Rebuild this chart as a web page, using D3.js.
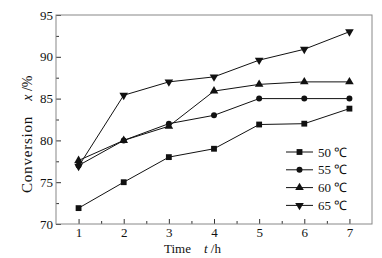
<!DOCTYPE html>
<html>
<head>
<meta charset="utf-8">
<script src="https://cdn.jsdelivr.net/npm/d3@7"></script>
<style>
  body { margin: 0; background: #fff; }
  svg { display: block; }
  svg text { font-family: "Liberation Serif", "Times New Roman", serif; fill: #111; }
</style>
</head>
<body>
<div id="chart"></div>
<script>
const hours = [1, 2, 3, 4, 5, 6, 7];
const conv50 = [71.9, 75, 78, 79, 81.9, 82, 83.8];
const conv55 = [77, 80, 82, 83, 85, 85, 85];
const conv60 = [77.6, 80, 81.7, 85.9, 86.7, 87, 87];
const conv65 = [76.9, 85.4, 87, 87.6, 89.6, 90.9, 93];
const seriesNames = ['50 ℃', '55 ℃', '60 ℃', '65 ℃'];
const xTicks = [1, 2, 3, 4, 5, 6, 7];
const yTicks = [70, 75, 80, 85, 90, 95];

const width = 382, height = 258;
const margin = {top: 15, right: 10, bottom: 34, left: 56};
const innerWidth = width - margin.left - margin.right;
const innerHeight = height - margin.top - margin.bottom;

const svg = d3.select('#chart').append('svg')
  .attr('width', width)
  .attr('height', height);

const g = svg.append('g')
  .attr('transform', `translate(${margin.left},${margin.top})`);

const xScale = d3.scaleLinear().domain([0.5, 7.5]).range([0, innerWidth]);
const yScale = d3.scaleLinear().domain([70, 95]).range([innerHeight, 0]);

// x axis, ticks pointing inward
const xAxisG = g.append('g')
  .attr('transform', `translate(0,${innerHeight})`)
  .call(d3.axisBottom(xScale).tickValues(xTicks).tickSize(-5).tickPadding(4).tickFormat(d3.format('d')));
xAxisG.append('g')
  .call(d3.axisBottom(xScale).tickValues(d3.range(1.5, 7, 1)).tickSize(-3).tickFormat(''));

const yAxisG = g.append('g')
  .call(d3.axisLeft(yScale).tickValues(yTicks).tickSize(-5).tickPadding(3).tickFormat(d3.format('d')));
yAxisG.append('g')
  .call(d3.axisLeft(yScale).tickValues(d3.range(72.5, 95, 5)).tickSize(-3).tickFormat(''));

[xAxisG, yAxisG].forEach(a => {
  a.attr('font-family', null).attr('font-size', null);
  a.selectAll('g').attr('font-family', null).attr('font-size', null);
  a.selectAll('.domain').attr('stroke', 'none');
  a.selectAll('line').attr('stroke', '#333');
  a.selectAll('text')
    .attr('font-size', 13)
    .attr('fill', '#111');
});

// frame
g.append('rect')
  .attr('width', innerWidth)
  .attr('height', innerHeight)
  .attr('fill', 'none')
  .attr('stroke', '#888')
  .attr('stroke-width', 1);

// axis labels
const xLab = svg.append('text')
  .attr('x', 164)
  .attr('y', 253)
  .attr('font-size', 13);
xLab.append('tspan').text('Time');
xLab.append('tspan').attr('dx', 13).attr('font-style', 'italic').text('t');
xLab.append('tspan').text(' /h');

const yLab = svg.append('text')
  .attr('transform', 'translate(32,193) rotate(-90)')
  .attr('font-size', 15);
yLab.append('tspan').attr('letter-spacing', 0.8).text('Conversion');
yLab.append('tspan').attr('dx', 15).attr('font-size', 14).attr('font-style', 'italic').text('x');
yLab.append('tspan').attr('font-size', 14).text(' /%');

const allSeries = [conv50, conv55, conv60, conv65];
const symbols = [d3.symbolSquare, d3.symbolCircle, d3.symbolTriangle, d3.symbolTriangle];
const symSizes = [34, 28, 32, 32];

const line = d3.line()
  .x((d, i) => xScale(hours[i]))
  .y(d => yScale(d));

allSeries.forEach((vals, s) => {
  g.append('path')
    .attr('d', line(vals))
    .attr('fill', 'none')
    .attr('stroke', '#111')
    .attr('stroke-width', 1);
  g.selectAll(`.pt${s}`).data(vals).enter().append('path')
    .attr('class', `pt${s}`)
    .attr('d', d3.symbol().type(symbols[s]).size(symSizes[s]))
    .attr('transform', (d, i) => `translate(${xScale(hours[i])},${yScale(d)})` + (s === 3 ? ' rotate(180)' : ''))
    .attr('fill', '#111');
});

// legend
const legend = g.append('g')
  .attr('transform', `translate(${286 - margin.left},${152 - margin.top})`);
seriesNames.forEach((name, s) => {
  const row = legend.append('g').attr('transform', `translate(0,${s * 17.8})`);
  row.append('line')
    .attr('x1', 0).attr('x2', 27)
    .attr('stroke', '#111').attr('stroke-width', 1);
  row.append('path')
    .attr('d', d3.symbol().type(symbols[s]).size(symSizes[s]))
    .attr('transform', `translate(13.5,0)` + (s === 3 ? ' rotate(180)' : ''))
    .attr('fill', '#111');
  row.append('text')
    .attr('x', 32)
    .attr('y', 4.5)
    .attr('font-size', 13)
    .text(name);
});
</script>
</body>
</html>
